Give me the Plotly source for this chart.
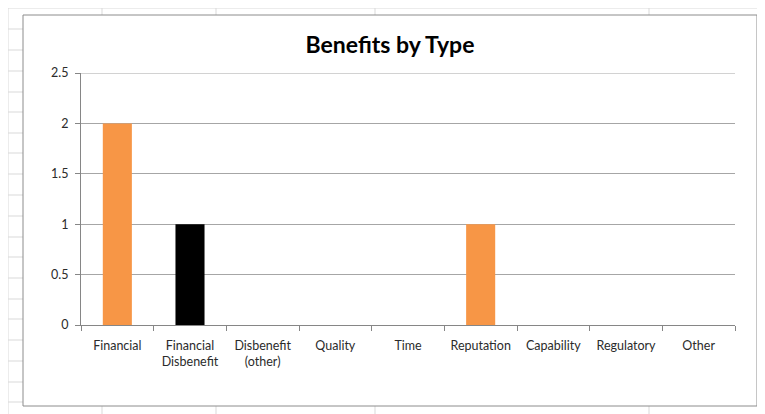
import plotly.graph_objects as go

categories = ["Financial", "Financial<br>Disbenefit", "Disbenefit<br>(other)", "Quality", "Time",
              "Reputation", "Capability", "Regulatory", "Other"]
values = [2, 1, 0, 0, 0, 1, 0, 0, 0]
bar_colors = ["#F79646", "#000000", "#F79646", "#F79646", "#F79646",
              "#F79646", "#F79646", "#F79646", "#F79646"]
y_ticks = [0, 0.5, 1, 1.5, 2, 2.5]
y_tick_labels = ["0", "0.5", "1", "1.5", "2", "2.5"]
y_max = 2.5

OFF = 8  # page body margin
W, H = 765 - OFF, 414 - OFF
L, R, T, B = 81 - OFF, 735 - OFF, 73 - OFF, 325 - OFF  # plot area in pixels


def px(x):
    return (x - OFF - L) / (R - L)


def py(y):
    return (B - (y - OFF)) / (B - T)


shapes = []
grid_c = "#D9D9D9"
# spreadsheet background lines (screen pixel coordinates)
h_lines = [8, 29, 50, 71, 92, 112, 133, 153, 174, 195, 216, 237, 257, 278, 299, 319, 340, 361, 382, 402]
v_lines = [8, 102, 216, 375, 649]
for yy in h_lines:
    shapes.append(dict(type="line", xref="paper", yref="paper", x0=px(8), x1=px(765), y0=py(yy), y1=py(yy),
                       line=dict(color=grid_c, width=1), layer="below"))
for xx in v_lines:
    shapes.append(dict(type="line", xref="paper", yref="paper", x0=px(xx), x1=px(xx), y0=py(8), y1=py(414),
                       line=dict(color=grid_c, width=1), layer="below"))
# chart box
shapes.append(dict(type="rect", xref="paper", yref="paper", x0=px(23), x1=px(757), y0=py(406), y1=py(15),
                   fillcolor="white", line=dict(color="#8C8C8C", width=1), layer="below"))
# top gridline at the axis maximum
shapes.append(dict(type="line", xref="paper", yref="y", x0=0, x1=1, y0=y_max, y1=y_max,
                   line=dict(color="#A6A6A6", width=1), layer="below"))

fig = go.Figure(go.Bar(x=categories, y=values, marker=dict(color=bar_colors, line=dict(width=0)),
                       showlegend=False))

fig.update_layout(
    width=W, height=H,
    margin=dict(l=L, r=W - R, t=T, b=H - B),
    paper_bgcolor="white",
    plot_bgcolor="rgba(0,0,0,0)",
    bargap=0.6,
    font=dict(family="Lato, sans-serif", size=13, color="#2B2B2B"),
    title=dict(text="<b>Benefits by Type</b>", x=(390 - OFF) / W, xref="container", xanchor="center",
               y=1 - (45 - OFF) / H, yref="container", yanchor="middle",
               font=dict(family="Lato, sans-serif", size=23, color="#000000")),
    shapes=shapes,
)
fig.update_xaxes(showline=True, linecolor="#868686", linewidth=1, ticks="outside", tickson="boundaries",
                 ticklen=5, tickcolor="#868686", showgrid=False, tickfont=dict(size=12.5),
                 ticklabelstandoff=9)
fig.update_yaxes(range=[0, y_max], tickvals=y_ticks, ticktext=y_tick_labels, showline=True,
                 linecolor="#868686", linewidth=1, ticks="outside", ticklen=5, tickcolor="#868686",
                 showgrid=True, gridcolor="#A6A6A6", gridwidth=1, zeroline=False, tickfont=dict(size=12.5),
                 ticklabelstandoff=4)

fig.write_html("out.html")
